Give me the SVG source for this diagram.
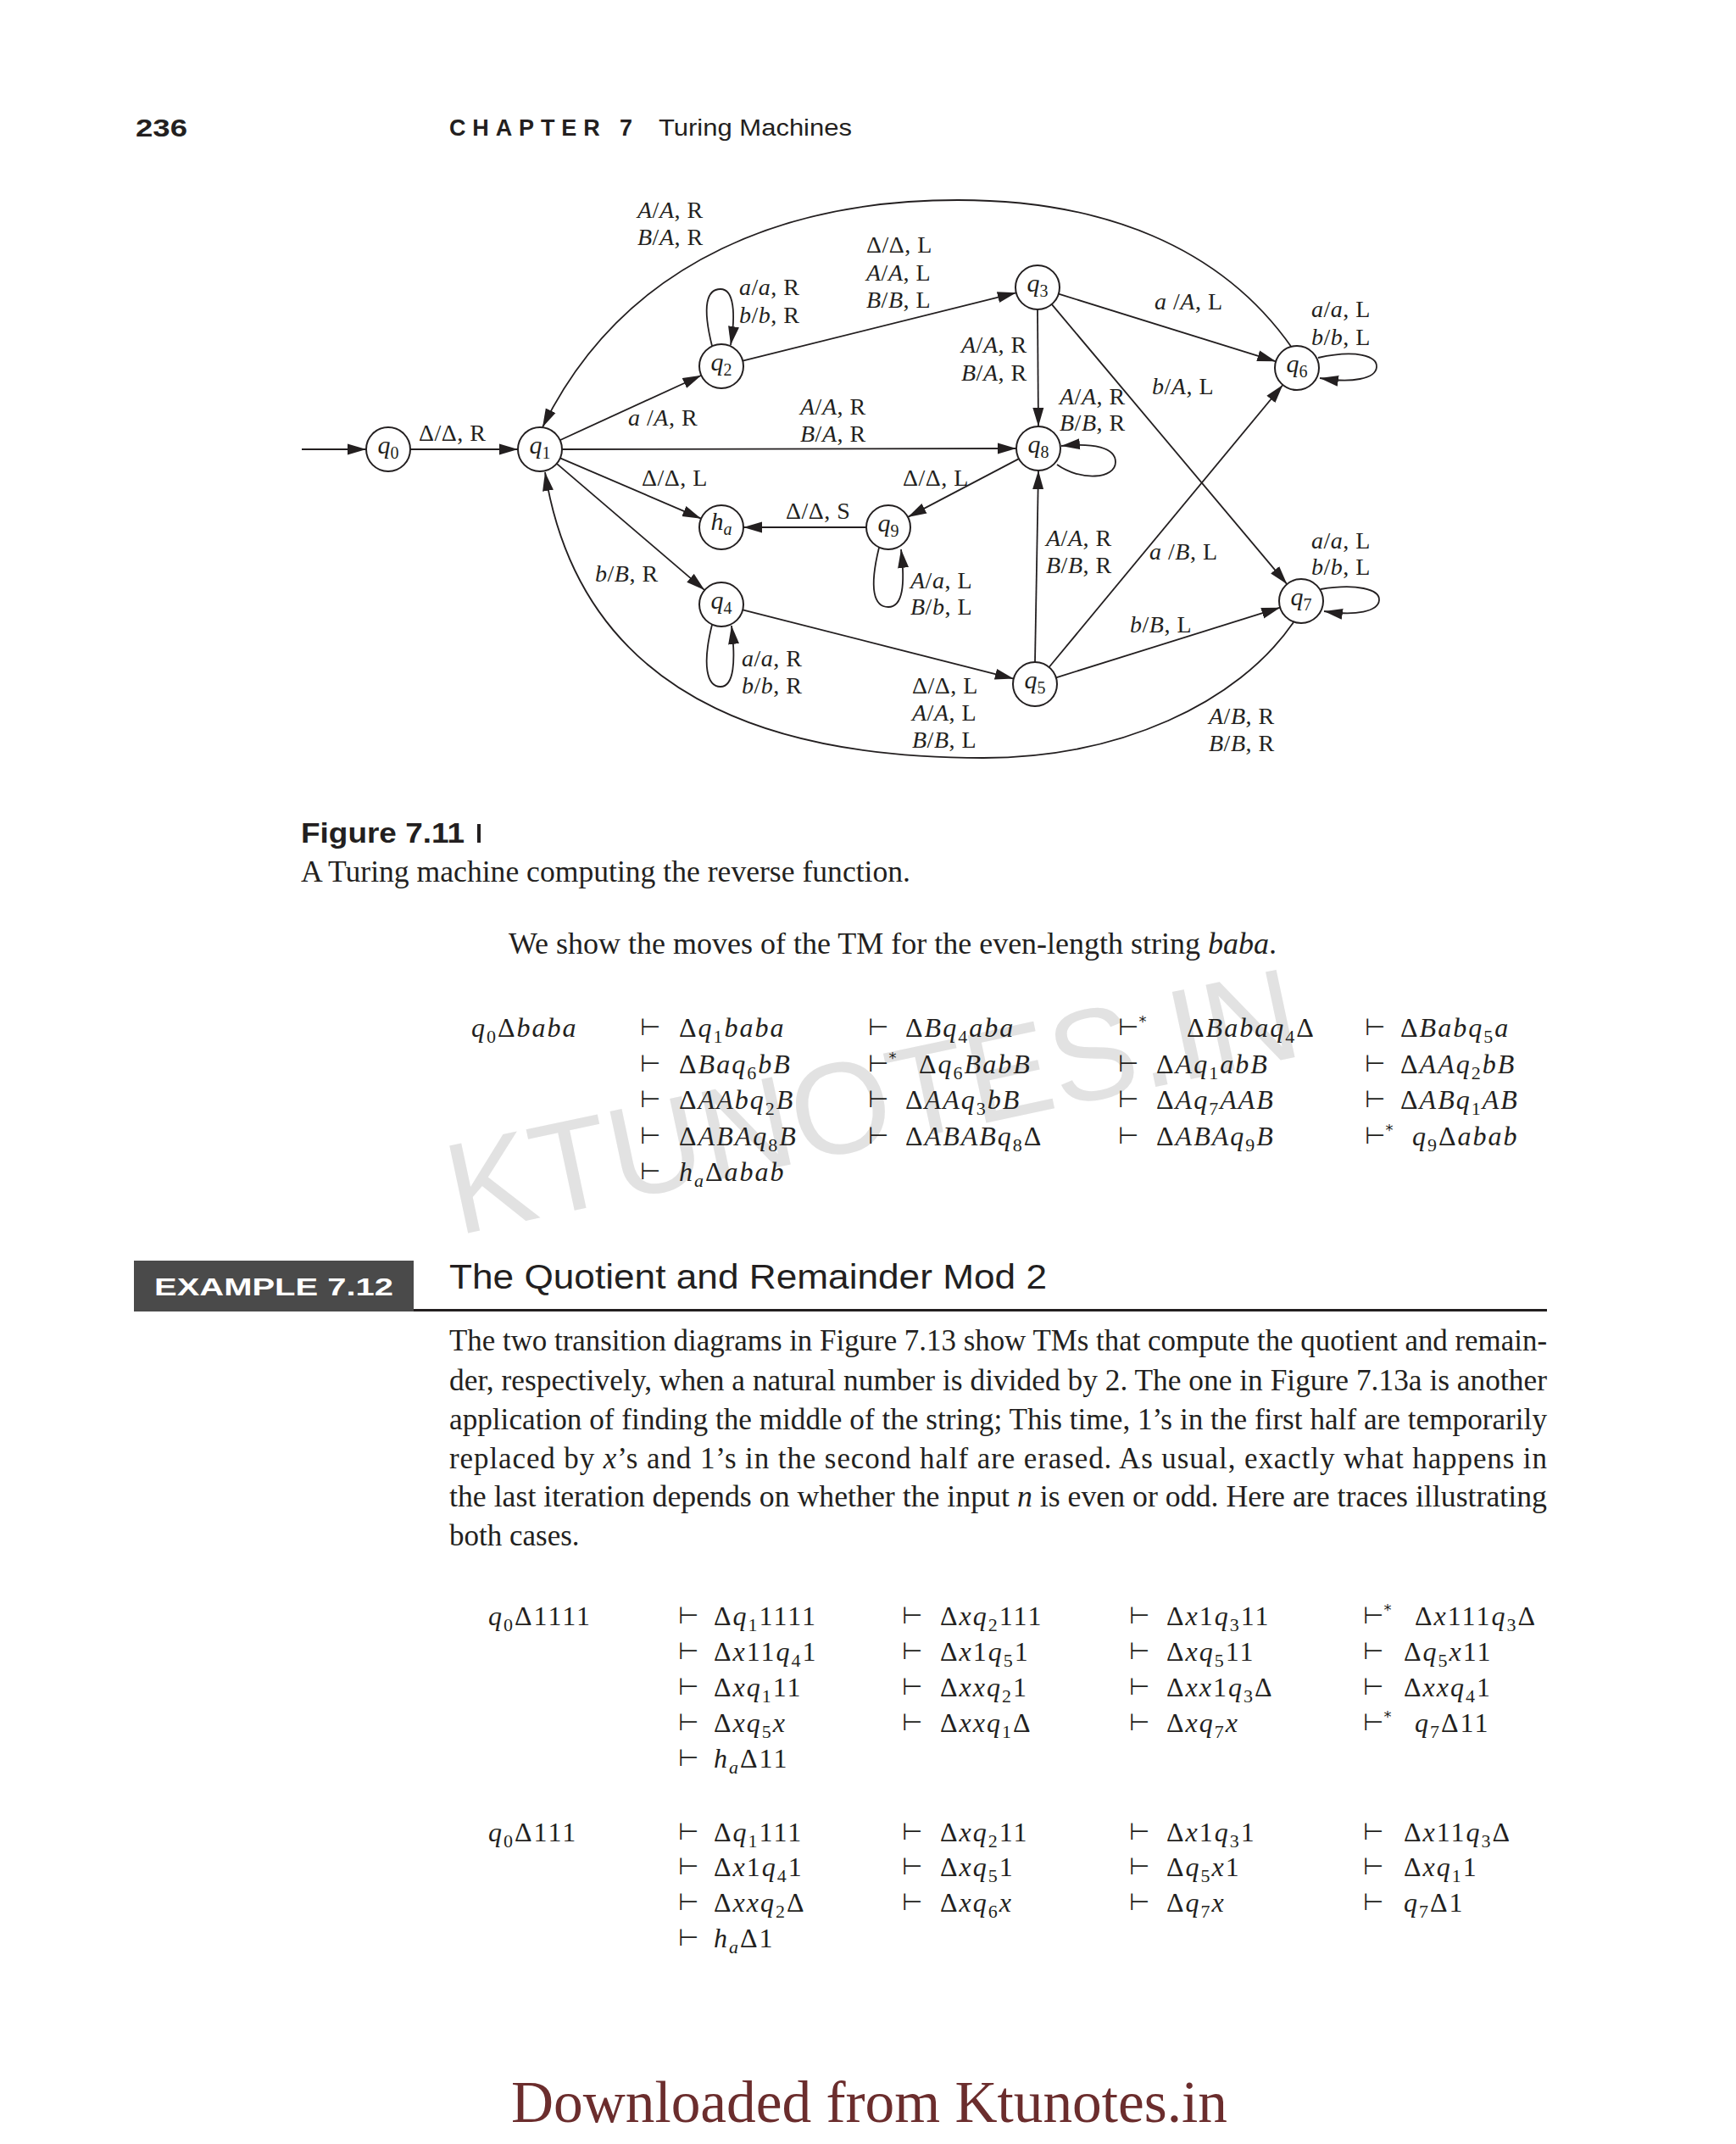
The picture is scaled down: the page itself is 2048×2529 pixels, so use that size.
<svg xmlns="http://www.w3.org/2000/svg" width="2048" height="2529" viewBox="0 0 2048 2529">
<style>
.bg{fill:#fff}
.nd{fill:#fff;stroke:#231f20;stroke-width:2}
.e{fill:none;stroke:#231f20;stroke-width:1.8}
.nl{font-family:"Liberation Serif",serif;font-size:30px;fill:#231f20}
.lb{font-family:"Liberation Serif",serif;font-size:28px;fill:#231f20;letter-spacing:0.5px}
.i{font-style:italic}
.m{font-family:"Liberation Serif",serif;font-size:32px;fill:#231f20;letter-spacing:2px}
.s{font-size:22px}
.ts{font-family:"DejaVu Sans",sans-serif;font-size:28px;fill:#231f20}
.st{font-size:18px}
.body{font-family:"Liberation Serif",serif;font-size:35px;fill:#231f20}
.sans{font-family:"Liberation Sans",Arial,sans-serif;fill:#231f20}
</style>
<defs>
<marker id="ah" markerUnits="userSpaceOnUse" markerWidth="24" markerHeight="14" refX="22" refY="7" orient="auto"><path d="M0,0.5 L22,7 L0,13.5 z" fill="#231f20"/></marker>
</defs>
<rect class="bg" x="0" y="0" width="2048" height="2529"/>

<!-- watermark -->
<text transform="translate(540,1457) rotate(-12)" font-family="Liberation Sans, sans-serif" font-size="153" fill="#e2e2e2" textLength="1022" lengthAdjust="spacingAndGlyphs">KTUNOTES.IN</text>

<!-- header -->
<text class="sans" x="160" y="161" font-size="30" font-weight="bold" textLength="61" lengthAdjust="spacingAndGlyphs">236</text>
<text class="sans" x="530" y="160" font-size="27" font-weight="bold" textLength="216" lengthAdjust="spacing">CHAPTER 7</text>
<text class="sans" x="777" y="160" font-size="28" textLength="228" lengthAdjust="spacingAndGlyphs">Turing Machines</text>

<!-- connectors -->
<g id="connectors">
<path class="e" marker-end="url(#ah)" d="M356,530 L432,530"/>
<path class="e" marker-end="url(#ah)" d="M484,530 L611,530"/>
<path class="e" marker-end="url(#ah)" d="M660.6,519.2 L827.4,442.8"/>
<path class="e" marker-end="url(#ah)" d="M663,530 L1199,529"/>
<path class="e" marker-end="url(#ah)" d="M660.9,540.3 L827.1,611.7"/>
<path class="e" marker-end="url(#ah)" d="M656.8,546.9 L831.2,696.1"/>
<path class="e" marker-end="url(#ah)" d="M876.2,425.7 L1198.8,345.3"/>
<path class="e" marker-end="url(#ah)" d="M1248.8,346.7 L1505.2,426.3"/>
<path class="e" marker-end="url(#ah)" d="M1224,365 L1225,503"/>
<path class="e" marker-end="url(#ah)" d="M1240.7,358.9 L1518.3,689.1"/>
<path class="e" marker-end="url(#ah)" d="M1202,541.1 L1071,609.9"/>
<path class="e" marker-end="url(#ah)" d="M1022,622 L877,622"/>
<path class="e" marker-end="url(#ah)" d="M876.2,719.4 L1195.8,800.6"/>
<path class="e" marker-end="url(#ah)" d="M1221,781 L1225,555"/>
<path class="e" marker-end="url(#ah)" d="M1237.6,787 L1513.4,454"/>
<path class="e" marker-end="url(#ah)" d="M1245.8,799.3 L1510.2,716.7"/>
<path class="e" marker-end="url(#ah)" d="M1524,410 C1440,290 1300,236 1130,236 C940,236 740,300 640,504"/>
<path class="e" marker-end="url(#ah)" d="M1526,734 C1460,830 1320,894 1160,894 C960,894 690,850 643,557"/>
<path class="e" marker-end="url(#ah)" d="M840,408 C828,360 834,341 850,341 C866,341 868,370 862,407"/>
<path class="e" marker-end="url(#ah)" d="M840,737 C828,785 834,810 850,810 C866,810 868,780 863,738"/>
<path class="e" marker-end="url(#ah)" d="M1037,646 C1025,695 1031,716 1048,716 C1065,716 1068,690 1063,648"/>
<path class="e" marker-end="url(#ah)" d="M1555,422 C1600,412 1625,420 1624,433 C1623,447 1595,452 1557,446"/>
<path class="e" marker-end="url(#ah)" d="M1558,695 C1600,688 1628,695 1627,708 C1626,721 1600,727 1562,721"/>
<path class="e" marker-end="url(#ah)" d="M1247,548 C1275,568 1316,565 1316,545 C1316,528 1290,522 1252,526"/>
</g>

<!-- nodes -->
<g id="q0"><circle class="nd" cx="458" cy="530" r="26"/><text class="nl" x="458" y="535" text-anchor="middle"><tspan class="i">q</tspan><tspan font-size="20" dy="6">0</tspan></text></g>
<g id="q1"><circle class="nd" cx="637" cy="530" r="26"/><text class="nl" x="637" y="535" text-anchor="middle"><tspan class="i">q</tspan><tspan font-size="20" dy="6">1</tspan></text></g>
<g id="q2"><circle class="nd" cx="851" cy="432" r="26"/><text class="nl" x="851" y="437" text-anchor="middle"><tspan class="i">q</tspan><tspan font-size="20" dy="6">2</tspan></text></g>
<g id="ha"><circle class="nd" cx="851" cy="622" r="26"/><text class="nl" x="851" y="625" text-anchor="middle"><tspan class="i">h</tspan><tspan class="i" font-size="20" dy="6">a</tspan></text></g>
<g id="q4"><circle class="nd" cx="851" cy="713" r="26"/><text class="nl" x="851" y="718" text-anchor="middle"><tspan class="i">q</tspan><tspan font-size="20" dy="6">4</tspan></text></g>
<g id="q3"><circle class="nd" cx="1224" cy="339" r="26"/><text class="nl" x="1224" y="344" text-anchor="middle"><tspan class="i">q</tspan><tspan font-size="20" dy="6">3</tspan></text></g>
<g id="q8"><circle class="nd" cx="1225" cy="529" r="26"/><text class="nl" x="1225" y="534" text-anchor="middle"><tspan class="i">q</tspan><tspan font-size="20" dy="6">8</tspan></text></g>
<g id="q9"><circle class="nd" cx="1048" cy="622" r="26"/><text class="nl" x="1048" y="627" text-anchor="middle"><tspan class="i">q</tspan><tspan font-size="20" dy="6">9</tspan></text></g>
<g id="q6"><circle class="nd" cx="1530" cy="434" r="26"/><text class="nl" x="1530" y="439" text-anchor="middle"><tspan class="i">q</tspan><tspan font-size="20" dy="6">6</tspan></text></g>
<g id="q7"><circle class="nd" cx="1535" cy="709" r="26"/><text class="nl" x="1535" y="714" text-anchor="middle"><tspan class="i">q</tspan><tspan font-size="20" dy="6">7</tspan></text></g>
<g id="q5"><circle class="nd" cx="1221" cy="807" r="26"/><text class="nl" x="1221" y="812" text-anchor="middle"><tspan class="i">q</tspan><tspan font-size="20" dy="6">5</tspan></text></g>

<!-- edge labels -->
<g id="labels" class="lb">
<text x="752" y="257"><tspan class="i">A</tspan>/<tspan class="i">A</tspan>, R</text>
<text x="752" y="289"><tspan class="i">B</tspan>/<tspan class="i">A</tspan>, R</text>
<text x="872" y="348"><tspan class="i">a</tspan>/<tspan class="i">a</tspan>, R</text>
<text x="872" y="381"><tspan class="i">b</tspan>/<tspan class="i">b</tspan>, R</text>
<text x="741" y="502"><tspan class="i">a</tspan> /<tspan class="i">A</tspan>, R</text>
<text x="944" y="489"><tspan class="i">A</tspan>/<tspan class="i">A</tspan>, R</text>
<text x="944" y="521"><tspan class="i">B</tspan>/<tspan class="i">A</tspan>, R</text>
<text x="494" y="520">Δ/Δ, R</text>
<text x="757" y="573">Δ/Δ, L</text>
<text x="927" y="612">Δ/Δ, S</text>
<text x="702" y="686"><tspan class="i">b</tspan>/<tspan class="i">B</tspan>, R</text>
<text x="875" y="786"><tspan class="i">a</tspan>/<tspan class="i">a</tspan>, R</text>
<text x="875" y="818"><tspan class="i">b</tspan>/<tspan class="i">b</tspan>, R</text>
<text x="1022" y="298">Δ/Δ, L</text>
<text x="1022" y="331"><tspan class="i">A</tspan>/<tspan class="i">A</tspan>, L</text>
<text x="1022" y="363"><tspan class="i">B</tspan>/<tspan class="i">B</tspan>, L</text>
<text x="1362" y="365"><tspan class="i">a</tspan> /<tspan class="i">A</tspan>, L</text>
<text x="1547" y="374"><tspan class="i">a</tspan>/<tspan class="i">a</tspan>, L</text>
<text x="1547" y="407"><tspan class="i">b</tspan>/<tspan class="i">b</tspan>, L</text>
<text x="1134" y="416"><tspan class="i">A</tspan>/<tspan class="i">A</tspan>, R</text>
<text x="1134" y="449"><tspan class="i">B</tspan>/<tspan class="i">A</tspan>, R</text>
<text x="1359" y="465"><tspan class="i">b</tspan>/<tspan class="i">A</tspan>, L</text>
<text x="1250" y="477"><tspan class="i">A</tspan>/<tspan class="i">A</tspan>, R</text>
<text x="1250" y="508"><tspan class="i">B</tspan>/<tspan class="i">B</tspan>, R</text>
<text x="1065" y="573">Δ/Δ, L</text>
<text x="1234" y="644"><tspan class="i">A</tspan>/<tspan class="i">A</tspan>, R</text>
<text x="1234" y="676"><tspan class="i">B</tspan>/<tspan class="i">B</tspan>, R</text>
<text x="1356" y="660"><tspan class="i">a</tspan> /<tspan class="i">B</tspan>, L</text>
<text x="1547" y="647"><tspan class="i">a</tspan>/<tspan class="i">a</tspan>, L</text>
<text x="1547" y="678"><tspan class="i">b</tspan>/<tspan class="i">b</tspan>, L</text>
<text x="1074" y="694"><tspan class="i">A</tspan>/<tspan class="i">a</tspan>, L</text>
<text x="1074" y="725"><tspan class="i">B</tspan>/<tspan class="i">b</tspan>, L</text>
<text x="1333" y="746"><tspan class="i">b</tspan>/<tspan class="i">B</tspan>, L</text>
<text x="1076" y="818">Δ/Δ, L</text>
<text x="1076" y="850"><tspan class="i">A</tspan>/<tspan class="i">A</tspan>, L</text>
<text x="1076" y="882"><tspan class="i">B</tspan>/<tspan class="i">B</tspan>, L</text>
<text x="1426" y="854"><tspan class="i">A</tspan>/<tspan class="i">B</tspan>, R</text>
<text x="1426" y="886"><tspan class="i">B</tspan>/<tspan class="i">B</tspan>, R</text>
</g>

<!-- caption -->
<text class="sans" x="355" y="994" font-size="33" font-weight="bold" textLength="193" lengthAdjust="spacingAndGlyphs">Figure 7.11</text>
<rect x="563" y="972" width="4" height="22" fill="#231f20"/>
<text class="body" x="355" y="1040" textLength="719" lengthAdjust="spacingAndGlyphs">A Turing machine computing the reverse function.</text>
<text class="body" x="600" y="1125" textLength="906" lengthAdjust="spacingAndGlyphs">We show the moves of the TM for the even-length string <tspan class="i">baba</tspan>.</text>

<!-- trace 1 -->
<g class="m">
<text x="556" y="1223"><tspan class="i">q</tspan><tspan class="s" dy="7">0</tspan><tspan dy="-7">Δ</tspan><tspan class="i">baba</tspan></text>
<text x="801" y="1223">Δ<tspan class="i">q</tspan><tspan class="s" dy="7">1</tspan><tspan class="i" dy="-7">baba</tspan></text>
<text x="1068" y="1223">Δ<tspan class="i">Bq</tspan><tspan class="s" dy="7">4</tspan><tspan class="i" dy="-7">aba</tspan></text>
<text x="1400" y="1223">Δ<tspan class="i">Babaq</tspan><tspan class="s" dy="7">4</tspan><tspan dy="-7">Δ</tspan></text>
<text x="1652" y="1223">Δ<tspan class="i">Babq</tspan><tspan class="s" dy="7">5</tspan><tspan class="i" dy="-7">a</tspan></text>

<text x="801" y="1266">Δ<tspan class="i">Baq</tspan><tspan class="s" dy="7">6</tspan><tspan class="i" dy="-7">bB</tspan></text>
<text x="1084" y="1266">Δ<tspan class="i">q</tspan><tspan class="s" dy="7">6</tspan><tspan class="i" dy="-7">BabB</tspan></text>
<text x="1364" y="1266">Δ<tspan class="i">Aq</tspan><tspan class="s" dy="7">1</tspan><tspan class="i" dy="-7">abB</tspan></text>
<text x="1652" y="1266">Δ<tspan class="i">AAq</tspan><tspan class="s" dy="7">2</tspan><tspan class="i" dy="-7">bB</tspan></text>

<text x="801" y="1308">Δ<tspan class="i">AAbq</tspan><tspan class="s" dy="7">2</tspan><tspan class="i" dy="-7">B</tspan></text>
<text x="1068" y="1308">Δ<tspan class="i">AAq</tspan><tspan class="s" dy="7">3</tspan><tspan class="i" dy="-7">bB</tspan></text>
<text x="1364" y="1308">Δ<tspan class="i">Aq</tspan><tspan class="s" dy="7">7</tspan><tspan class="i" dy="-7">AAB</tspan></text>
<text x="1652" y="1308">Δ<tspan class="i">ABq</tspan><tspan class="s" dy="7">1</tspan><tspan class="i" dy="-7">AB</tspan></text>

<text x="801" y="1351">Δ<tspan class="i">ABAq</tspan><tspan class="s" dy="7">8</tspan><tspan class="i" dy="-7">B</tspan></text>
<text x="1068" y="1351">Δ<tspan class="i">ABABq</tspan><tspan class="s" dy="7">8</tspan><tspan dy="-7">Δ</tspan></text>
<text x="1364" y="1351">Δ<tspan class="i">ABAq</tspan><tspan class="s" dy="7">9</tspan><tspan class="i" dy="-7">B</tspan></text>
<text x="1666" y="1351"><tspan class="i">q</tspan><tspan class="s" dy="7">9</tspan><tspan dy="-7">Δ</tspan><tspan class="i">abab</tspan></text>

<text x="801" y="1393"><tspan class="i">h</tspan><tspan class="s i" dy="7">a</tspan><tspan dy="-7">Δ</tspan><tspan class="i">abab</tspan></text>
</g>
<g class="ts">
<text x="755" y="1221">⊢</text><text x="1024" y="1221">⊢</text><text x="1319" y="1221">⊢<tspan class="st" dy="-10">*</tspan></text><text x="1610" y="1221">⊢</text>
<text x="755" y="1264">⊢</text><text x="1024" y="1264">⊢<tspan class="st" dy="-10">*</tspan></text><text x="1319" y="1264">⊢</text><text x="1610" y="1264">⊢</text>
<text x="755" y="1306">⊢</text><text x="1024" y="1306">⊢</text><text x="1319" y="1306">⊢</text><text x="1610" y="1306">⊢</text>
<text x="755" y="1349">⊢</text><text x="1024" y="1349">⊢</text><text x="1319" y="1349">⊢</text><text x="1610" y="1349">⊢<tspan class="st" dy="-10">*</tspan></text>
<text x="755" y="1391">⊢</text>
</g>

<!-- example header -->
<rect x="158" y="1487" width="330" height="60" fill="#4a4a4a"/>
<text class="sans" x="182" y="1528" font-size="30" font-weight="bold" fill="#fff" style="fill:#fff" textLength="282" lengthAdjust="spacingAndGlyphs">EXAMPLE 7.12</text>
<text class="sans" x="530" y="1520" font-size="40" textLength="705" lengthAdjust="spacingAndGlyphs">The Quotient and Remainder Mod 2</text>
<rect x="488" y="1544" width="1337" height="3" fill="#231f20"/>

<!-- paragraph -->
<g class="body">
<text x="530" y="1593" textLength="1295" lengthAdjust="spacingAndGlyphs">The two transition diagrams in Figure 7.13 show TMs that compute the quotient and remain-</text>
<text x="530" y="1640" textLength="1295" lengthAdjust="spacingAndGlyphs">der, respectively, when a natural number is divided by 2. The one in Figure 7.13a is another</text>
<text x="530" y="1686" textLength="1295" lengthAdjust="spacingAndGlyphs">application of finding the middle of the string; This time, 1’s in the first half are temporarily</text>
<text x="530" y="1732" textLength="1295" lengthAdjust="spacing">replaced by <tspan class="i">x</tspan>’s and 1’s in the second half are erased. As usual, exactly what happens in</text>
<text x="530" y="1777" textLength="1295" lengthAdjust="spacingAndGlyphs">the last iteration depends on whether the input <tspan class="i">n</tspan> is even or odd. Here are traces illustrating</text>
<text x="530" y="1823">both cases.</text>
</g>

<!-- trace 2 -->
<g class="m">
<text x="576" y="1917"><tspan class="i">q</tspan><tspan class="s" dy="7">0</tspan><tspan dy="-7">Δ1111</tspan></text>
<text x="842" y="1917">Δ<tspan class="i">q</tspan><tspan class="s" dy="7">1</tspan><tspan dy="-7">1111</tspan></text>
<text x="1109" y="1917">Δ<tspan class="i">xq</tspan><tspan class="s" dy="7">2</tspan><tspan dy="-7">111</tspan></text>
<text x="1376" y="1917">Δ<tspan class="i">x</tspan>1<tspan class="i">q</tspan><tspan class="s" dy="7">3</tspan><tspan dy="-7">11</tspan></text>
<text x="1669" y="1917">Δ<tspan class="i">x</tspan>111<tspan class="i">q</tspan><tspan class="s" dy="7">3</tspan><tspan dy="-7">Δ</tspan></text>

<text x="842" y="1959">Δ<tspan class="i">x</tspan>11<tspan class="i">q</tspan><tspan class="s" dy="7">4</tspan><tspan dy="-7">1</tspan></text>
<text x="1109" y="1959">Δ<tspan class="i">x</tspan>1<tspan class="i">q</tspan><tspan class="s" dy="7">5</tspan><tspan dy="-7">1</tspan></text>
<text x="1376" y="1959">Δ<tspan class="i">xq</tspan><tspan class="s" dy="7">5</tspan><tspan dy="-7">11</tspan></text>
<text x="1656" y="1959">Δ<tspan class="i">q</tspan><tspan class="s" dy="7">5</tspan><tspan class="i" dy="-7">x</tspan>11</text>

<text x="842" y="2001">Δ<tspan class="i">xq</tspan><tspan class="s" dy="7">1</tspan><tspan dy="-7">11</tspan></text>
<text x="1109" y="2001">Δ<tspan class="i">xxq</tspan><tspan class="s" dy="7">2</tspan><tspan dy="-7">1</tspan></text>
<text x="1376" y="2001">Δ<tspan class="i">xx</tspan>1<tspan class="i">q</tspan><tspan class="s" dy="7">3</tspan><tspan dy="-7">Δ</tspan></text>
<text x="1656" y="2001">Δ<tspan class="i">xxq</tspan><tspan class="s" dy="7">4</tspan><tspan dy="-7">1</tspan></text>

<text x="842" y="2043">Δ<tspan class="i">xq</tspan><tspan class="s" dy="7">5</tspan><tspan class="i" dy="-7">x</tspan></text>
<text x="1109" y="2043">Δ<tspan class="i">xxq</tspan><tspan class="s" dy="7">1</tspan><tspan dy="-7">Δ</tspan></text>
<text x="1376" y="2043">Δ<tspan class="i">xq</tspan><tspan class="s" dy="7">7</tspan><tspan class="i" dy="-7">x</tspan></text>
<text x="1669" y="2043"><tspan class="i">q</tspan><tspan class="s" dy="7">7</tspan><tspan dy="-7">Δ11</tspan></text>

<text x="842" y="2085"><tspan class="i">h</tspan><tspan class="s i" dy="7">a</tspan><tspan dy="-7">Δ11</tspan></text>
</g>
<g class="ts">
<text x="800" y="1915">⊢</text><text x="1064" y="1915">⊢</text><text x="1332" y="1915">⊢</text><text x="1608" y="1915">⊢<tspan class="st" dy="-10">*</tspan></text>
<text x="800" y="1957">⊢</text><text x="1064" y="1957">⊢</text><text x="1332" y="1957">⊢</text><text x="1608" y="1957">⊢</text>
<text x="800" y="1999">⊢</text><text x="1064" y="1999">⊢</text><text x="1332" y="1999">⊢</text><text x="1608" y="1999">⊢</text>
<text x="800" y="2041">⊢</text><text x="1064" y="2041">⊢</text><text x="1332" y="2041">⊢</text><text x="1608" y="2041">⊢<tspan class="st" dy="-10">*</tspan></text>
<text x="800" y="2083">⊢</text>
</g>

<!-- trace 3 -->
<g class="m">
<text x="576" y="2172"><tspan class="i">q</tspan><tspan class="s" dy="7">0</tspan><tspan dy="-7">Δ111</tspan></text>
<text x="842" y="2172">Δ<tspan class="i">q</tspan><tspan class="s" dy="7">1</tspan><tspan dy="-7">111</tspan></text>
<text x="1109" y="2172">Δ<tspan class="i">xq</tspan><tspan class="s" dy="7">2</tspan><tspan dy="-7">11</tspan></text>
<text x="1376" y="2172">Δ<tspan class="i">x</tspan>1<tspan class="i">q</tspan><tspan class="s" dy="7">3</tspan><tspan dy="-7">1</tspan></text>
<text x="1656" y="2172">Δ<tspan class="i">x</tspan>11<tspan class="i">q</tspan><tspan class="s" dy="7">3</tspan><tspan dy="-7">Δ</tspan></text>

<text x="842" y="2213">Δ<tspan class="i">x</tspan>1<tspan class="i">q</tspan><tspan class="s" dy="7">4</tspan><tspan dy="-7">1</tspan></text>
<text x="1109" y="2213">Δ<tspan class="i">xq</tspan><tspan class="s" dy="7">5</tspan><tspan dy="-7">1</tspan></text>
<text x="1376" y="2213">Δ<tspan class="i">q</tspan><tspan class="s" dy="7">5</tspan><tspan class="i" dy="-7">x</tspan>1</text>
<text x="1656" y="2213">Δ<tspan class="i">xq</tspan><tspan class="s" dy="7">1</tspan><tspan dy="-7">1</tspan></text>

<text x="842" y="2255">Δ<tspan class="i">xxq</tspan><tspan class="s" dy="7">2</tspan><tspan dy="-7">Δ</tspan></text>
<text x="1109" y="2255">Δ<tspan class="i">xq</tspan><tspan class="s" dy="7">6</tspan><tspan class="i" dy="-7">x</tspan></text>
<text x="1376" y="2255">Δ<tspan class="i">q</tspan><tspan class="s" dy="7">7</tspan><tspan class="i" dy="-7">x</tspan></text>
<text x="1656" y="2255"><tspan class="i">q</tspan><tspan class="s" dy="7">7</tspan><tspan dy="-7">Δ1</tspan></text>

<text x="842" y="2297"><tspan class="i">h</tspan><tspan class="s i" dy="7">a</tspan><tspan dy="-7">Δ1</tspan></text>
</g>
<g class="ts">
<text x="800" y="2170">⊢</text><text x="1064" y="2170">⊢</text><text x="1332" y="2170">⊢</text><text x="1608" y="2170">⊢</text>
<text x="800" y="2211">⊢</text><text x="1064" y="2211">⊢</text><text x="1332" y="2211">⊢</text><text x="1608" y="2211">⊢</text>
<text x="800" y="2253">⊢</text><text x="1064" y="2253">⊢</text><text x="1332" y="2253">⊢</text><text x="1608" y="2253">⊢</text>
<text x="800" y="2295">⊢</text>
</g>

<!-- footer -->
<text x="603" y="2503" font-family="Liberation Serif, serif" font-size="69" fill="#6b2d2d" textLength="845" lengthAdjust="spacingAndGlyphs">Downloaded from Ktunotes.in</text>
</svg>
